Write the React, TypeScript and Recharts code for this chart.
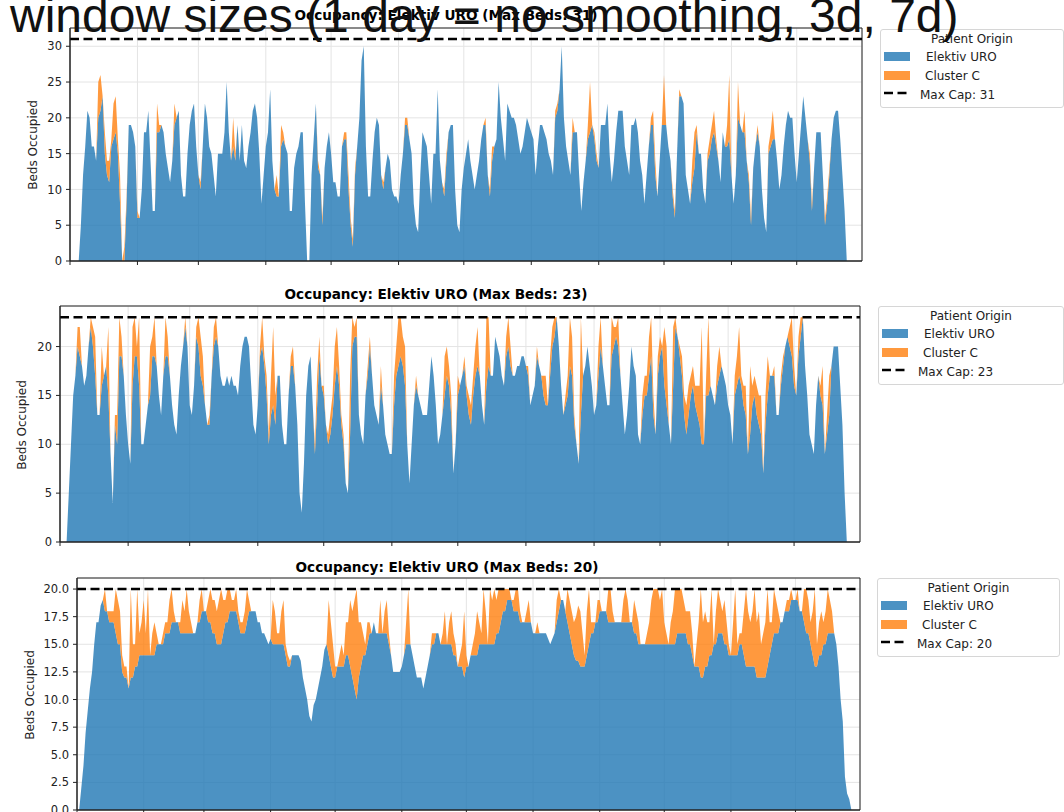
import { AreaChart, Area, XAxis, YAxis, CartesianGrid, ReferenceLine, ReferenceArea } from "recharts"

// day-of-year index of first value in each panel
const START_1 = 4
const START_2 = 3
const START_3 = 1

const MONTH_TICKS = [0, 31, 59, 90, 120, 151, 181, 212, 243, 273, 304, 334]

// Panel 1: 1 day window (no smoothing), max beds 31
const uro1 = [
  0, 5, 12, 16, 21, 20, 16, 16, 14, 20,
  21, 23, 15, 12, 11, 16, 17, 18, 15, 8,
  0, 0, 8, 19, 19, 18, 16, 6, 6, 10,
  18, 18, 21, 14, 7, 7, 18, 18, 19, 18,
  15, 13, 11, 14, 19, 20, 21, 12, 9, 9,
  15, 19, 21, 22, 16, 12, 10, 16, 22, 20,
  16, 15, 12, 9, 15, 15, 15, 18, 25, 18,
  14, 16, 14, 19, 14, 19, 14, 13, 16, 18,
  21, 22, 20, 15, 8, 12, 16, 18, 24, 14,
  10, 9, 9, 16, 17, 16, 15, 7, 7, 13,
  15, 16, 18, 18, 8, 0, 0, 12, 17, 22,
  13, 12, 5, 13, 16, 18, 15, 11, 11, 9,
  9, 16, 17, 17, 10, 5, 2, 12, 16, 20,
  28, 30, 16, 9, 9, 14, 18, 20, 19, 12,
  10, 13, 15, 14, 10, 9, 9, 8, 12, 15,
  19, 19, 17, 15, 8, 5, 4, 12, 18, 17,
  16, 12, 8, 15, 15, 24, 14, 11, 9, 14,
  18, 19, 19, 10, 5, 4, 10, 13, 15, 17,
  14, 12, 10, 12, 14, 17, 19, 19, 12, 9,
  14, 16, 17, 25, 20, 17, 14, 22, 21, 20,
  20, 19, 17, 15, 16, 18, 20, 19, 18, 17,
  12, 16, 19, 19, 18, 17, 15, 14, 12, 20,
  21, 24, 30, 20, 16, 14, 12, 18, 18, 18,
  12, 7, 11, 14, 17, 18, 19, 17, 14, 13,
  19, 19, 19, 22, 15, 11, 14, 18, 21, 21,
  21, 16, 14, 12, 19, 19, 20, 18, 14, 12,
  8, 12, 16, 19, 19, 12, 9, 14, 19, 19,
  19, 16, 14, 9, 6, 15, 23, 23, 22, 12,
  10, 8, 11, 13, 18, 15, 15, 10, 8, 14,
  15, 17, 18, 16, 14, 11, 18, 16, 16, 17,
  12, 8, 12, 20, 19, 18, 18, 14, 11, 5,
  13, 16, 18, 16, 10, 6, 4, 15, 16, 17,
  17, 14, 10, 12, 16, 19, 21, 20, 20, 15,
  11, 15, 19, 23, 20, 17, 14, 7, 13, 18,
  18, 18, 12, 5, 8, 12, 17, 20, 21, 21,
  17, 12, 7, 0,
]
const clusterC1 = [
  0, 0, 0, 0, 0, 0, 0, 0, 0, 5,
  5, 0, 3, 2, 3, 1, 5, 5, 2, 4,
  0, 2, 1, 0, 0, 0, 0, 1, 0, 0,
  0, 0, 0, 0, 0, 0, 4, 1, 0, 0,
  0, 0, 0, 0, 3, 0, 0, 0, 0, 0,
  0, 0, 0, 0, 0, 0, 1, 0, 0, 0,
  0, 0, 0, 0, 0, 0, 0, 0, 0, 0,
  0, 4, 1, 0, 0, 0, 0, 0, 0, 0,
  0, 0, 0, 0, 0, 0, 0, 0, 0, 0,
  0, 3, 0, 3, 1, 0, 0, 0, 0, 0,
  0, 0, 0, 0, 0, 0, 0, 0, 0, 0,
  1, 0, 1, 0, 0, 0, 0, 0, 0, 0,
  0, 0, 1, 1, 2, 1, 1, 1, 0, 0,
  0, 0, 0, 0, 0, 0, 0, 0, 0, 0,
  1, 0, 0, 0, 0, 0, 0, 0, 0, 0,
  1, 1, 0, 0, 0, 0, 0, 0, 0, 0,
  0, 0, 0, 0, 0, 0, 0, 0, 1, 1,
  0, 0, 0, 0, 0, 0, 0, 0, 0, 0,
  0, 0, 0, 0, 0, 0, 0, 1, 0, 1,
  2, 0, 0, 0, 0, 0, 0, 0, 0, 0,
  0, 0, 0, 0, 0, 0, 0, 0, 0, 0,
  0, 0, 0, 0, 0, 0, 0, 0, 0, 1,
  1, 0, 0, 0, 0, 0, 0, 2, 0, 0,
  0, 0, 0, 0, 2, 7, 0, 1, 1, 0,
  0, 0, 0, 0, 0, 0, 0, 0, 0, 0,
  0, 0, 0, 0, 0, 0, 0, 0, 0, 0,
  0, 0, 0, 1, 2, 2, 0, 0, 0, 7,
  0, 0, 0, 1, 1, 0, 1, 0, 0, 0,
  0, 0, 3, 5, 1, 0, 0, 0, 0, 1,
  2, 2, 3, 1, 0, 0, 0, 0, 3, 9,
  0, 0, 0, 5, 0, 0, 3, 0, 1, 1,
  0, 0, 1, 0, 0, 0, 0, 1, 2, 4,
  0, 0, 0, 0, 0, 0, 0, 0, 0, 0,
  0, 0, 0, 0, 0, 0, 1, 1, 0, 0,
  0, 0, 0, 1, 1, 1, 0, 0, 0, 0,
  0, 0, 0, 0,
]

// Panel 2: 3 day window, max beds 23
const uro2 = [
  0, 5, 10, 15, 17, 20, 19, 18, 16, 17,
  20, 22, 20, 17, 13, 13, 16, 17, 18, 15,
  9, 4, 12, 10, 19, 19, 17, 13, 10, 8,
  16, 19, 19, 16, 10, 10, 12, 14, 15, 19,
  19, 18, 15, 13, 17, 19, 19, 17, 14, 12,
  11, 15, 18, 20, 22, 20, 14, 13, 16, 21,
  20, 17, 16, 14, 12, 12, 17, 20, 21, 20,
  17, 16, 16, 17, 16, 17, 16, 16, 15, 18,
  20, 21, 21, 20, 16, 12, 11, 14, 19, 20,
  18, 15, 10, 13, 14, 12, 17, 17, 12, 10,
  10, 15, 18, 18, 16, 12, 5, 3, 8, 15,
  18, 19, 14, 9, 14, 19, 16, 15, 12, 10,
  11, 13, 16, 18, 16, 12, 10, 6, 5, 11,
  20, 21, 21, 13, 11, 10, 15, 17, 20, 17,
  14, 13, 12, 16, 14, 11, 10, 9, 9, 14,
  17, 18, 19, 18, 16, 10, 6, 10, 14, 16,
  15, 14, 13, 13, 13, 16, 19, 17, 14, 10,
  11, 13, 15, 17, 16, 13, 7, 10, 15, 16,
  17, 18, 15, 13, 12, 15, 17, 18, 17, 14,
  12, 16, 18, 17, 17, 21, 20, 19, 17, 16,
  19, 20, 18, 17, 17, 18, 18, 19, 19, 18,
  17, 14, 15, 16, 19, 18, 17, 15, 14, 14,
  17, 20, 21, 23, 20, 16, 13, 14, 15, 18,
  17, 12, 10, 8, 13, 17, 18, 20, 18, 16,
  13, 14, 17, 20, 18, 16, 14, 14, 19, 20,
  21, 20, 17, 14, 11, 13, 16, 20, 18, 17,
  11, 10, 13, 15, 15, 17, 19, 13, 11, 17,
  19, 20, 16, 14, 12, 10, 16, 22, 21, 19,
  17, 13, 11, 13, 15, 16, 14, 13, 12, 10,
  10, 15, 15, 16, 15, 14, 16, 17, 18, 17,
  16, 14, 13, 10, 15, 16, 17, 16, 14, 13,
  9, 11, 14, 15, 13, 12, 11, 7, 12, 15,
  17, 17, 17, 13, 13, 16, 18, 20, 21, 20,
  19, 16, 15, 19, 21, 23, 18, 15, 11, 10,
  9, 14, 17, 15, 14, 9, 11, 13, 18, 20,
  20, 20, 16, 12, 5, 0,
]
const clusterC2 = [
  0, 0, 0, 0, 0, 2, 3, 0, 0, 0,
  0, 1, 2, 4, 0, 0, 4, 0, 0, 7,
  0, 0, 1, 3, 4, 2, 0, 0, 0, 0,
  6, 4, 1, 7, 0, 0, 0, 0, 5, 2,
  4, 0, 0, 0, 0, 4, 2, 0, 0, 0,
  0, 0, 0, 0, 1, 0, 0, 0, 0, 1,
  3, 4, 3, 0, 0, 1, 0, 2, 2, 0,
  0, 0, 0, 0, 0, 0, 0, 0, 0, 0,
  0, 0, 0, 0, 0, 0, 0, 0, 1, 3,
  1, 2, 1, 4, 8, 3, 0, 0, 0, 0,
  0, 0, 1, 2, 0, 0, 0, 0, 0, 0,
  0, 0, 0, 1, 3, 2, 0, 1, 0, 1,
  2, 2, 4, 4, 2, 1, 1, 0, 0, 6,
  3, 1, 2, 0, 0, 0, 0, 1, 1, 0,
  0, 0, 0, 2, 0, 0, 0, 0, 0, 3,
  3, 5, 4, 3, 4, 0, 0, 0, 0, 1,
  0, 0, 0, 0, 0, 0, 0, 0, 0, 0,
  0, 0, 4, 3, 2, 2, 0, 0, 2, 0,
  0, 1, 1, 2, 2, 2, 3, 4, 0, 0,
  0, 7, 5, 0, 0, 0, 0, 0, 0, 0,
  2, 3, 2, 0, 0, 0, 0, 0, 0, 0,
  1, 0, 0, 0, 1, 0, 0, 2, 3, 0,
  2, 2, 2, 0, 0, 0, 0, 1, 2, 5,
  4, 1, 0, 0, 10, 0, 0, 0, 0, 0,
  0, 0, 3, 3, 0, 0, 0, 0, 4, 2,
  1, 3, 0, 0, 0, 0, 0, 0, 0, 0,
  0, 0, 2, 2, 2, 4, 4, 2, 0, 2,
  2, 0, 6, 6, 0, 0, 6, 1, 0, 1,
  2, 2, 3, 3, 2, 2, 2, 3, 4, 12,
  0, 2, 8, 0, 0, 0, 2, 3, 0, 0,
  0, 0, 0, 0, 2, 3, 5, 1, 2, 3,
  0, 7, 2, 2, 3, 3, 4, 0, 3, 4,
  0, 0, 1, 0, 0, 1, 1, 0, 0, 2,
  4, 2, 0, 2, 2, 0, 0, 0, 0, 0,
  0, 0, 0, 1, 4, 0, 2, 4, 0, 0,
  0, 0, 0, 0, 0, 0,
]

// Panel 3: 7 day window, max beds 20
const uro3 = [
  0, 2, 4, 7, 9, 11, 12.5, 15, 17, 17,
  18.5, 19, 18, 18, 17, 17, 17, 16, 15, 15,
  12.5, 12, 12, 11, 12, 12, 13, 13, 14, 14,
  14, 14, 14, 14, 14, 14, 15, 15, 15, 15,
  16, 16, 16, 17, 17, 17, 17, 16, 16, 16,
  16, 16, 16, 16, 16, 17, 17, 18, 18, 18,
  17, 17, 16, 16, 15, 15, 15, 16, 17, 17,
  18, 18, 18, 18, 17, 16, 16, 16, 17, 18,
  18, 18, 18, 17, 17, 16, 16, 15.5, 15, 15.5,
  15, 15, 15, 15, 15, 15, 14, 13, 13, 14,
  14, 14, 14, 13.5, 12, 11, 10, 8.5, 8, 9.5,
  10, 11, 12, 13, 14.5, 15, 14, 13, 12, 12,
  13, 13, 13, 13, 14, 14, 13, 12, 11, 10,
  12, 13, 14, 14, 15, 16, 16, 17, 16, 16,
  16, 16, 16, 16, 15, 14, 12.5, 12.5, 12.5, 12.5,
  13, 14, 15, 15, 15, 14, 13, 12, 12, 12,
  11, 12, 13, 14, 15, 15, 16, 16, 15, 15,
  15, 15, 15, 15, 14, 14, 13, 13, 13, 12,
  13, 13, 14, 14, 14, 14, 15, 15, 15, 15,
  15, 15, 15, 15, 16, 16, 17, 18, 18, 19,
  19, 19, 18, 18, 18, 17, 17, 17, 17, 17,
  17, 16, 16, 16, 16, 16, 16, 16, 15.5, 15,
  15.5, 16, 17, 18, 19, 19, 18, 17, 16, 15,
  14, 13.5, 13.5, 13, 13, 13, 14, 15, 16, 16,
  17, 17, 18, 18, 18, 18, 17, 17, 17, 17,
  17, 17, 17, 17, 17, 17, 17, 17, 16, 16,
  15, 15, 15, 15, 15, 15, 15, 15, 15, 15,
  15, 15, 15, 15, 15, 15, 15, 15, 16, 16,
  16, 16, 16, 15, 15, 14, 13, 13, 13, 12,
  12, 13, 13, 14, 14, 15, 15, 16, 16, 16,
  15, 15, 14, 14, 14, 14, 14, 15, 15, 14,
  13, 13, 13, 13, 13, 12, 12, 12, 12, 12,
  13, 14, 15, 16, 16, 16, 17, 17, 18, 18,
  18, 19, 19, 19, 19, 18, 18, 17, 16, 16,
  15, 14, 13, 13, 14, 14, 15, 15, 16, 16,
  16, 16, 15, 13, 10, 8, 3, 1.5, 1, 0,
]
const clusterC3 = [
  0, 0, 0, 0, 0, 0, 0, 0, 0, 0,
  0, 0, 2, 0, 1, 1, 1, 4, 4, 3,
  1.5, 1, 1, 0, 8, 3, 2, 7, 2, 3,
  5, 2, 6, 0, 2, 3, 1, 0, 0, 1,
  1, 1, 3, 3, 1, 0, 0, 1, 3, 2,
  4, 2, 1, 0, 0, 0, 2, 2, 0, 0,
  2, 3, 3, 3, 3, 4, 5, 3, 2, 3,
  2, 1, 1, 2, 1, 1, 1, 2, 3, 1,
  0, 0, 0, 0, 0, 0, 0, 0, 0, 0,
  4, 3, 1, 1, 3, 4, 1, 1, 0.5, 0,
  0, 0, 0, 0, 0, 0, 0, 0, 0, 0,
  0, 0, 0, 0, 0, 0, 5, 4, 3, 1,
  0, 1, 2, 1, 3, 3, 6, 6, 8, 10,
  5, 4, 2, 1, 2, 1, 0, 0, 0, 0,
  3, 0, 2, 3, 1, 0, 0, 0, 0, 0,
  0, 0, 2, 5, 0, 0, 0, 0, 0, 0,
  0, 0, 0, 0, 1, 1, 0, 0, 0, 1,
  3, 0, 2, 3, 2, 1, 0, 1, 2, 6,
  1, 0, 0, 1, 2, 4, 2, 1, 5, 3,
  0, 5, 4, 5, 3, 4, 3, 2, 2, 1,
  1, 0, 1, 2, 2, 1, 0, 0, 1, 2,
  0, 0, 0, 1, 0, 0, 0, 0, 0, 0,
  0, 0, 2, 2, 0, 0, 0, 3, 3, 3,
  3, 4, 5, 5, 3, 1, 4, 5, 1, 1,
  0, 2, 1, 0, 0, 0, 3, 3, 1, 0,
  0, 0, 0, 2, 3, 2, 0, 0, 3, 2,
  2, 0, 0, 0, 1, 2, 4, 5, 5, 5,
  4, 5, 2, 1, 0, 2, 3, 5, 4, 4,
  4, 3, 2, 3, 3, 2, 0, 2, 4, 8,
  5, 5, 4, 3, 6, 0, 3, 4, 3, 2,
  4, 2, 1, 0, 3, 6, 1, 1, 1, 4,
  7, 5, 4, 5, 7, 5, 6, 3, 4, 5,
  7, 3, 2, 4, 3, 2, 0, 0, 0, 1,
  1, 1, 0, 0, 1, 0, 0, 3, 4, 3,
  2, 4, 7, 2, 3, 4, 2, 3, 4, 3,
  2, 0, 0, 0, 0, 0, 0, 0, 0, 0,
]

const BLUE = "#1f77b4"
const ORANGE = "#ff7f0e"
const AXIS = "#222"
const FONT = "DejaVu Sans"

const buildRows = (start: number, uro: number[], cc: number[]) =>
  uro.map((v, i) => ({ day: start + i, uro: v, cluster: cc[i] ?? 0 }))

type PanelProps = {
  top: number
  height: number
  marginTop: number
  yAxisWidth: number
  rightMargin: number
  yMax: number
  yTicks: number[]
  cap: number
  rows: { day: number; uro: number; cluster: number }[]
  decimals?: number
}

function Panel(p: PanelProps) {
  return (
    <div style={{ position: "absolute", left: 0, top: p.top }}>
      <AreaChart
        width={1064}
        height={p.height}
        data={p.rows}
        margin={{ top: p.marginTop, right: p.rightMargin, left: 0, bottom: 0 }}
      >
        <CartesianGrid stroke="#e4e4e4" />
        <XAxis
          type="number"
          dataKey="day"
          domain={[0, 364]}
          ticks={MONTH_TICKS}
          interval={0}
          tickFormatter={() => ""}
          tickSize={4}
          height={10}
          axisLine={{ stroke: AXIS }}
          tickLine={{ stroke: AXIS }}
          allowDataOverflow
        />
        <YAxis
          type="number"
          domain={[0, p.yMax]}
          ticks={p.yTicks}
          interval={0}
          width={p.yAxisWidth}
          tickSize={4}
          tickMargin={4}
          tickFormatter={(v: number) => (p.decimals ? v.toFixed(p.decimals) : String(v))}
          tick={{ fontSize: 11.5, fill: AXIS, fontFamily: FONT }}
          axisLine={{ stroke: AXIS }}
          tickLine={{ stroke: AXIS }}
          allowDataOverflow
        />
        <Area
          type="linear"
          dataKey="uro"
          stackId="s"
          fill={BLUE}
          fillOpacity={0.8}
          stroke="none"
          dot={false}
          activeDot={false}
          isAnimationActive={false}
        />
        <Area
          type="linear"
          dataKey="cluster"
          stackId="s"
          fill={ORANGE}
          fillOpacity={0.8}
          stroke="none"
          dot={false}
          activeDot={false}
          isAnimationActive={false}
        />
        <ReferenceLine y={p.cap} stroke="#000" strokeWidth={2.5} strokeDasharray="9 4.5" />
        <ReferenceArea x1={0} x2={364} y1={0} y2={p.yMax} fill="none" stroke={AXIS} strokeWidth={1} />
      </AreaChart>
    </div>
  )
}

function LegendBox({ left, top, width, cap }: { left: number; top: number; width: number; cap: number }) {
  const text = { position: "absolute" as const, fontSize: 12, color: "#222", fontFamily: FONT, lineHeight: "14px", whiteSpace: "nowrap" as const }
  return (
    <div
      style={{
        position: "absolute",
        left,
        top,
        width,
        height: 77,
        border: "1px solid #d6d6d6",
        borderRadius: 3,
        background: "rgba(255,255,255,0.8)",
      }}
    >
      <div style={{ ...text, left: 0, width, top: 2, textAlign: "center" }}>Patient Origin</div>
      <div style={{ position: "absolute", left: 3, top: 22, width: 26, height: 9, background: BLUE, opacity: 0.8 }} />
      <div style={{ ...text, left: 45, top: 20 }}>Elektiv URO</div>
      <div style={{ position: "absolute", left: 3, top: 41, width: 26, height: 9, background: ORANGE, opacity: 0.8 }} />
      <div style={{ ...text, left: 44, top: 39 }}>Cluster C</div>
      <svg style={{ position: "absolute", left: 3, top: 59 }} width={28} height={8}>
        <line x1={0} y1={4} x2={26} y2={4} stroke="#000" strokeWidth={2.5} strokeDasharray="9 4.5" />
      </svg>
      <div style={{ ...text, left: 39, top: 58 }}>Max Cap: {cap}</div>
    </div>
  )
}

function Title({ cx, cy, children }: { cx: number; cy: number; children: string }) {
  return (
    <div
      style={{
        position: "absolute",
        left: cx,
        top: cy,
        transform: "translate(-50%, -50%)",
        fontFamily: FONT,
        fontWeight: "bold",
        fontSize: 13.6,
        color: "#000",
        whiteSpace: "nowrap",
      }}
    >
      {children}
    </div>
  )
}

function YLabel({ cx, cy }: { cx: number; cy: number }) {
  return (
    <div
      style={{
        position: "absolute",
        left: cx,
        top: cy,
        transform: "translate(-50%, -50%) rotate(-90deg)",
        fontFamily: FONT,
        fontSize: 12,
        color: "#222",
        whiteSpace: "nowrap",
      }}
    >
      Beds Occupied
    </div>
  )
}

export default function App() {
  const rows1 = buildRows(START_1, uro1, clusterC1)
  const rows2 = buildRows(START_2, uro2, clusterC2)
  const rows3 = buildRows(START_3, uro3, clusterC3)

  return (
    <div
      style={{
        position: "absolute",
        left: 0,
        top: 0,
        width: 1064,
        height: 812,
        overflow: "hidden",
        background: "#fff",
      }}
    >
      <Panel
        top={0}
        height={271}
        marginTop={28}
        yAxisWidth={70}
        rightMargin={202}
        yMax={32.55}
        yTicks={[0, 5, 10, 15, 20, 25, 30]}
        cap={31}
        rows={rows1}
      />
      <Panel
        top={282}
        height={270}
        marginTop={24}
        yAxisWidth={60}
        rightMargin={204}
        yMax={24.15}
        yTicks={[0, 5, 10, 15, 20]}
        cap={23}
        rows={rows2}
      />
      <Panel
        top={555}
        height={265}
        marginTop={23}
        yAxisWidth={77}
        rightMargin={204}
        yMax={21}
        yTicks={[0, 2.5, 5, 7.5, 10, 12.5, 15, 17.5, 20]}
        cap={20}
        rows={rows3}
        decimals={1}
      />

      <YLabel cx={33} cy={145} />
      <YLabel cx={22} cy={425} />
      <YLabel cx={30} cy={695} />

      <Title cx={446} cy={15}>Occupancy: Elektiv URO (Max Beds: 31)</Title>
      <Title cx={436} cy={294}>Occupancy: Elektiv URO (Max Beds: 23)</Title>
      <Title cx={447} cy={567}>Occupancy: Elektiv URO (Max Beds: 20)</Title>

      <LegendBox left={880} top={29} width={182} cap={31} />
      <LegendBox left={878} top={306} width={184} cap={23} />
      <LegendBox left={877} top={578} width={181} cap={20} />

      <svg style={{ position: "absolute", left: 0, top: 0 }} width={1064} height={70}>
        <text x={10} y={32} fontFamily="Liberation Sans" fontSize={48} fill="#111">
          window sizes (1 day = no smoothing, 3d, 7d)
        </text>
      </svg>
    </div>
  )
}
